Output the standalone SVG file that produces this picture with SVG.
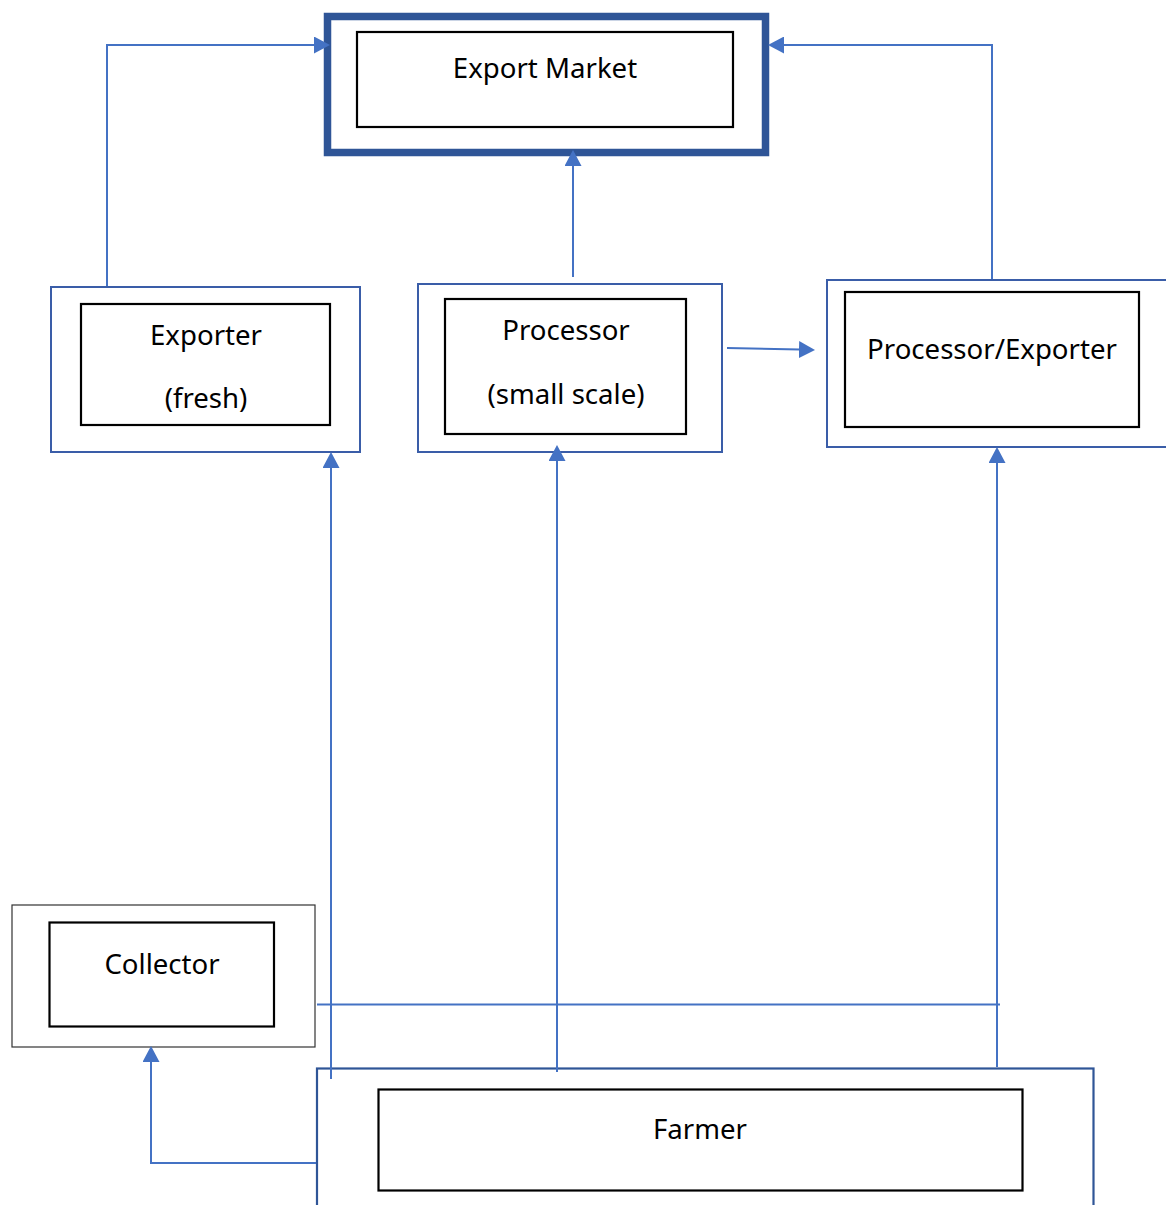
<svg xmlns="http://www.w3.org/2000/svg" width="1166" height="1205" viewBox="0 0 1166 1205">
<style>
.outer{fill:none;stroke:#3A5DA8;stroke-width:2}
.inner{fill:#fff;stroke:#000;stroke-width:2.2}
.lbl{font-family:"Noto Sans","Open Sans","DejaVu Sans",sans-serif;font-size:27.6px;fill:#000;text-anchor:middle}
.conn{fill:none;stroke:#4472C4;stroke-width:2}
</style>
<defs>
<marker id="arr" markerUnits="userSpaceOnUse" markerWidth="17" markerHeight="17" refX="1" refY="8.5" orient="auto" viewBox="0 0 17 17">
<path d="M0,0 L16,8.5 L0,17 Z" fill="#4472C4"/>
</marker>
</defs>
<rect width="1166" height="1205" fill="#fff"/>

<g id="export-market">
<rect x="327.5" y="16.5" width="438" height="136" fill="none" stroke="#2F5597" stroke-width="7.5"/>
<rect class="inner" x="357" y="32" width="376" height="95"/>
<text class="lbl" x="545" y="78">Export Market</text>
</g>

<g id="exporter-fresh">
<rect class="outer" x="51" y="287" width="309" height="165"/>
<rect class="inner" x="81" y="304" width="249" height="121"/>
<text class="lbl" x="206" y="345">Exporter</text>
<text class="lbl" x="206" y="408">(fresh)</text>
</g>

<g id="processor-small">
<rect class="outer" x="418" y="284" width="304" height="168"/>
<rect class="inner" x="445" y="299" width="241" height="135"/>
<text class="lbl" x="566" y="340">Processor</text>
<text class="lbl" x="566" y="404">(small scale)</text>
</g>

<g id="processor-exporter">
<rect class="outer" x="827" y="280" width="400" height="167"/>
<rect class="inner" x="845" y="292" width="294" height="135"/>
<text class="lbl" x="992" y="359">Processor/Exporter</text>
</g>

<g id="collector">
<rect x="12" y="905" width="303" height="142" fill="none" stroke="#333" stroke-width="1.2"/>
<rect class="inner" x="49.5" y="922.5" width="224.5" height="104"/>
<text class="lbl" x="162" y="974">Collector</text>
</g>

<g id="farmer">
<rect x="317" y="1068.5" width="776.5" height="160" fill="none" stroke="#2F5597" stroke-width="2.2"/>
<rect class="inner" x="378.5" y="1089.5" width="644" height="101"/>
<text class="lbl" x="700" y="1139">Farmer</text>
</g>

<g id="connectors">
<path class="conn" d="M107,286 V45 H315" marker-end="url(#arr)"/>
<path class="conn" d="M992,279 V45 H783" marker-end="url(#arr)"/>
<path class="conn" d="M573,277 V165" marker-end="url(#arr)"/>
<path class="conn" d="M727,348 L800,349.6" marker-end="url(#arr)"/>
<path class="conn" d="M331,1079 V467" marker-end="url(#arr)"/>
<path class="conn" d="M557,1072 V460" marker-end="url(#arr)"/>
<path class="conn" d="M997,1067 V462" marker-end="url(#arr)"/>
<path class="conn" d="M316,1163 H151 V1061" marker-end="url(#arr)"/>
<path class="conn" d="M317,1004.5 H1000" stroke-width="1.2"/>
</g>
</svg>
